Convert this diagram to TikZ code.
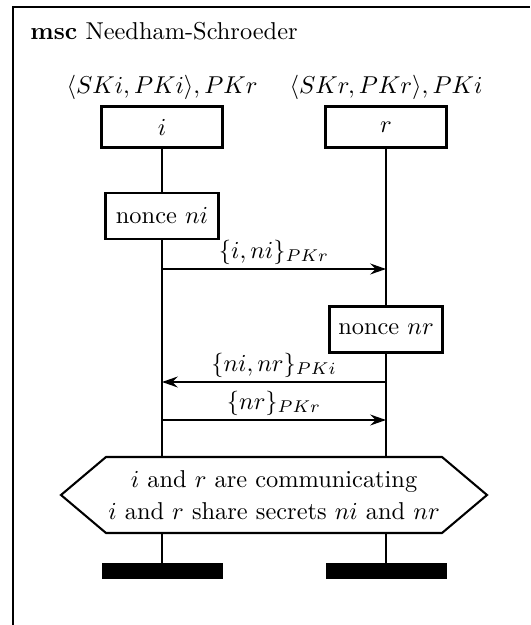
\documentclass[tikz,border=0pt]{standalone}
\usetikzlibrary{arrows.meta,backgrounds}
\newcommand{\pxd}[1]{#1*0.41pt}
\begin{document}
\begin{tikzpicture}[x=0.41pt,y=-0.41pt,
  framestyle/.style={line width=1pt},
  lifeline/.style={line width=0.85pt},
  instbox/.style={draw,line width=0.85pt,fill=white,minimum width={\pxd{121}},minimum height={\pxd{41}},inner sep=0pt},
  actbox/.style={draw,line width=0.85pt,fill=white,minimum width={\pxd{113}},minimum height={\pxd{46}},inner sep=0pt},
  stopbar/.style={fill=black,minimum width={\pxd{121}},minimum height={\pxd{16}},inner sep=0pt},
  msg/.style={line width=0.85pt,-{Stealth[length=6.5pt,width=4.5pt,inset=2.2pt]}},
  msglabel/.style={above,inner sep=1.5pt}]
\useasboundingbox (0,0) rectangle (530,625);
\draw[framestyle] (13,625) -- (13,7) -- (530,7);
\node[anchor=base west,inner sep=0pt] (title) at (30,40) {\textbf{msc} Needham-Schroeder};
% instances
\node[instbox] (ibox) at (162,127) {$i$};
\node[instbox] (rbox) at (386,127) {$r$};
\node[anchor=south,inner sep=2pt] (ihead) at (ibox.north) {$\langle SKi, PKi\rangle, PKr$};
\node[anchor=south,inner sep=2pt] (rhead) at (rbox.north) {$\langle SKr, PKr\rangle, PKi$};
% actions
\node[actbox] (ni) at (162,216) {nonce $ni$};
\node[actbox] (nr) at (386,329.5) {nonce $nr$};
% messages
\coordinate (m1a) at (162,269); \coordinate (m1b) at (386,269);
\coordinate (m2a) at (386,382); \coordinate (m2b) at (162,382);
\coordinate (m3a) at (162,420); \coordinate (m3b) at (386,420);
\draw[msg] (m1a) -- node[msglabel] (l1) {$\{i, ni\}_{PKr}$} (m1b);
\draw[msg] (m2a) -- node[msglabel] (l2) {$\{ni, nr\}_{PKi}$} (m2b);
\draw[msg] (m3a) -- node[msglabel] (l3) {$\{nr\}_{PKr}$} (m3b);
% condition
\draw[line width=0.85pt,fill=white] (61,495) -- (106,457) -- (442,457) -- (487,495) -- (442,533) -- (106,533) -- cycle;
\node[align=center,inner sep=0pt] (cond) at (274,495) {$i$ and $r$ are communicating\\[1pt] $i$ and $r$ share secrets $ni$ and $nr$};
% stops
\node[stopbar] (istop) at (162,571) {};
\node[stopbar] (rstop) at (386,571) {};
\begin{scope}[on background layer]
\draw[lifeline] (ibox.south) -- (istop.north);
\draw[lifeline] (rbox.south) -- (rstop.north);
\end{scope}
\end{tikzpicture}
\end{document}
